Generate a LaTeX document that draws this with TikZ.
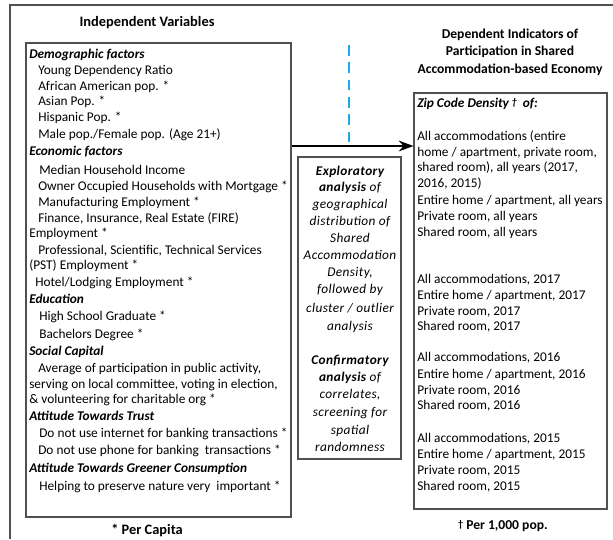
\documentclass[tikz,border=0pt]{standalone}
\usepackage{fontspec}
\setmainfont{Carlito}
\newfontfamily\midfont[LetterSpace=3]{Carlito}
\usetikzlibrary{fit,arrows.meta}
\definecolor{framegray}{HTML}{505050}
\definecolor{dashblue}{HTML}{1AAAE8}
\newcommand{\smdag}{\raisebox{1.2pt}{\fontsize{7.5}{8}\selectfont †}}
\tikzset{
  t/.style={inner sep=0pt, anchor=west, text height=7pt, text depth=2pt, font=\fontsize{10}{12}\selectfont},
  tc/.style={inner sep=0pt, anchor=center, text height=7pt, text depth=2pt, font=\fontsize{10}{12}\selectfont\midfont\itshape},
  hd/.style={t, font=\fontsize{10}{12}\selectfont\bfseries\itshape},
  box/.style={draw=framegray, line width=0.8pt, inner sep=0pt},
  title/.style={inner sep=0pt, align=center, font=\fontsize{10.2}{13}\selectfont\bfseries},
  bigtitle/.style={title, font=\fontsize{10.8}{13}\selectfont\bfseries},
}
\begin{document}
\begin{tikzpicture}[x=0.75pt,y=-0.75pt]
\useasboundingbox (0,0) rectangle (613,539);
% outer frame
\coordinate (o1) at (10,539);
\coordinate (o2) at (10,5);
\coordinate (o3) at (613,5);
\draw[framegray, line width=0.8pt] (o1) -- (o2) -- (o3);
% boxes
\coordinate (Lnw) at (26,43); \coordinate (Lse) at (291,517);
\node[box, fit=(Lnw)(Lse)] (L) {};
\coordinate (Mnw) at (298,157); \coordinate (Mse) at (401,459);
\node[box, fit=(Mnw)(Mse)] (M) {};
\coordinate (Rnw) at (414,93); \coordinate (Rse) at (607,509);
\node[box, fit=(Rnw)(Rse)] (R) {};
% titles
\node[bigtitle] (tl) at (147,23) {Independent Variables};
\node[title] (tr) at (510,52) {Dependent Indicators of\\Participation in Shared\\Accommodation-based Economy};
\node[bigtitle] (fl) at (147,530) {* Per Capita};
\node[title] (fr) at (503,526) {\smdag\ Per 1,000 pop.};
% dashed line
\coordinate (d1) at (349,45);
\coordinate (d2) at (349,143);
\draw[dashblue, line width=1pt, dash pattern=on 8pt off 5pt] (d1) -- (d2);
% arrow
\coordinate (ay) at (0,146);
\draw[line width=1.6pt, -{Stealth[length=11pt,width=8pt]}] (L.east |- ay) -- (R.west |- ay);
% left text
\node[hd] (l1) at (29,55) {Demographic factors};
\node[t] (l2) at (38,71) {Young Dependency Ratio};
\node[t] (l3) at (38,87) {African American pop. *};
\node[t] (l4) at (38,102) {Asian Pop. *};
\node[t] (l5) at (38,118) {Hispanic Pop. *};
\node[t] (l6) at (38,135) {Male pop./Female pop. (Age 21+)};
\node[hd] (l7) at (29,152) {Economic factors};
\node[t] (l8) at (39,171) {Median Household Income};
\node[t] (l9) at (38,187) {Owner Occupied Households with Mortgage *};
\node[t] (l10) at (38,203) {Manufacturing Employment *};
\node[t] (l11) at (38,219) {Finance, Insurance, Real Estate (FIRE)};
\node[t] (l12) at (29,234) {Employment *};
\node[t] (l13) at (38,251) {Professional, Scientific, Technical Services};
\node[t] (l14) at (29,266) {(PST) Employment *};
\node[t] (l15) at (35,283) {Hotel/Lodging Employment *};
\node[hd] (l16) at (29,300) {Education};
\node[t] (l17) at (39,317) {High School Graduate *};
\node[t] (l18) at (39,335) {Bachelors Degree *};
\node[hd] (l19) at (29,352) {Social Capital};
\node[t] (l20) at (38,369) {Average of participation in public activity,};
\node[t] (l21) at (29,385) {serving on local committee, voting in election,};
\node[t] (l22) at (29,400) {\& volunteering for charitable org *};
\node[hd] (l23) at (29,417) {Attitude Towards Trust};
\node[t] (l24) at (39,434) {Do not use internet for banking transactions *};
\node[t] (l25) at (38,451) {Do not use phone for banking\ \ transactions *};
\node[hd] (l26) at (29,469) {Attitude Towards Greener Consumption};
\node[t] (l27) at (39,487) {Helping to preserve nature very\ \ important *};
% middle text
\node[tc] (m1) at (350,172) {\bfseries Exploratory};
\node[tc] (m2) at (350,188) {\textbf{analysis} of};
\node[tc] (m3) at (350,205) {geographical};
\node[tc] (m4) at (350,222) {distribution of};
\node[tc] (m5) at (350,239) {Shared};
\node[tc] (m6) at (350,256) {Accommodation};
\node[tc] (m7) at (350,273) {Density,};
\node[tc] (m8) at (350,290) {followed by};
\node[tc] (m9) at (350,309) {cluster / outlier};
\node[tc] (m10) at (350,327) {analysis};
\node[tc] (m11) at (350,361) {\bfseries Confirmatory};
\node[tc] (m12) at (350,378) {\textbf{analysis} of};
\node[tc] (m13) at (350,395) {correlates,};
\node[tc] (m14) at (350,413) {screening for};
\node[tc] (m15) at (350,431) {spatial};
\node[tc] (m16) at (350,448) {randomness};
% right text
\node[hd] (r0) at (417,104) {Zip Code Density \smdag\ \ of:};
\node[t] (r1) at (417,137) {All accommodations (entire};
\node[t] (r2) at (417,153) {home / apartment, private room,};
\node[t] (r3) at (417,168) {shared room), all years (2017,};
\node[t] (r4) at (417,184) {2016, 2015)};
\node[t] (r5) at (417,201) {Entire home / apartment, all years};
\node[t] (r6) at (417,217) {Private room, all years};
\node[t] (r7) at (417,233) {Shared room, all years};
\node[t] (r8) at (417,280) {All accommodations, 2017};
\node[t] (r9) at (417,296) {Entire home / apartment, 2017};
\node[t] (r10) at (417,312) {Private room, 2017};
\node[t] (r11) at (417,327) {Shared room, 2017};
\node[t] (r12) at (417,358) {All accommodations, 2016};
\node[t] (r13) at (417,375) {Entire home / apartment, 2016};
\node[t] (r14) at (417,391) {Private room, 2016};
\node[t] (r15) at (417,406) {Shared room, 2016};
\node[t] (r16) at (417,439) {All accommodations, 2015};
\node[t] (r17) at (417,455) {Entire home / apartment, 2015};
\node[t] (r18) at (417,471) {Private room, 2015};
\node[t] (r19) at (417,487) {Shared room, 2015};
\end{tikzpicture}
\end{document}
